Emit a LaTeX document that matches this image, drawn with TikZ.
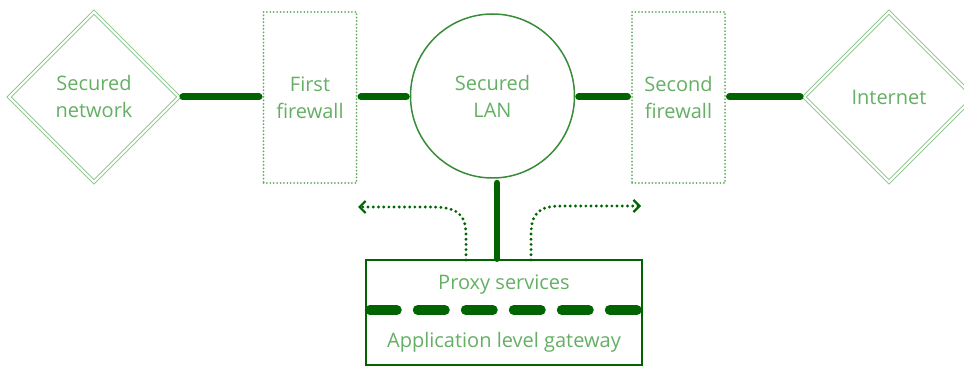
\documentclass[tikz,border=0pt]{standalone}
\usepackage{fontspec}
\setmainfont{Open Sans}
\usetikzlibrary{shapes.geometric,arrows.meta}
\definecolor{dkgreen}{RGB}{0,100,0}
\definecolor{txtgreen}{RGB}{100,175,100}
\definecolor{lgreen}{RGB}{135,195,135}
\definecolor{fwgreen}{RGB}{100,172,100}
\definecolor{cgreen}{RGB}{55,140,55}
\tikzset{
  lbl/.style={text=txtgreen,font=\fontsize{20}{27}\selectfont,align=center},
  diam/.style={lbl,shape=diamond,draw=lgreen,line width=0.8pt,double=white,double distance=2.2pt,inner sep=0pt,minimum width=170pt,minimum height=170pt},
  fwbox/.style={lbl,draw=fwgreen,line width=2pt,line cap=round,dash pattern=on 0pt off 3.4pt,minimum width=93pt,minimum height=171pt,inner sep=0pt},
  lanc/.style={lbl,shape=circle,draw=cgreen,line width=1.5pt,minimum size=164pt,inner sep=0pt},
  gw/.style={draw=dkgreen,line width=2.5pt,minimum width=276pt,minimum height=105pt,inner sep=0pt},
  conn/.style={draw=dkgreen,line width=7pt,line cap=round,shorten <=3.5pt,shorten >=3.5pt},
  dotarrow/.style={draw=dkgreen,line width=3.2pt,line cap=round,dash pattern=on 0pt off 5.2pt,-{Straight Barb[length=6pt,width=12pt,line width=2.2pt]}},
}
\begin{document}
\begin{tikzpicture}[x=1pt,y=-1pt]
\useasboundingbox (0,0) rectangle (964,366);
\node[diam] (net) at (94,97) {Secured\\network};
\node[fwbox] (fw1) at (310,97.5) {First\\firewall};
\node[lanc] (lan) at (492.5,96) {Secured\\LAN};
\node[fwbox] (fw2) at (678.5,97.5) {Second\\firewall};
\node[diam] (inet) at (889,97) {Internet};
\node[gw] (gwy) at (504,312.5) {};
\node[lbl] (proxy) at (504,285) {Proxy services};
\node[lbl] (alg) at (504,342) {Application level gateway};
\draw[conn] (net.east) -- (net.east -| fw1.west);
\draw[conn] (net.east -| fw1.east) -- (net.east -| lan.west);
\draw[conn] (net.east -| lan.east) -- (net.east -| fw2.west);
\draw[conn] (net.east -| fw2.east) -- (inet.west);
\coordinate (vtop) at (497,183);
\draw[draw=dkgreen,line width=6.5pt,line cap=round] (vtop) -- (vtop |- gwy.north);
\draw[draw=dkgreen,line width=10pt,line cap=round,dash pattern=on 27pt off 21pt] ([xshift=5pt]gwy.west |- 0,310) -- ([xshift=-5pt]gwy.east |- 0,310);
\coordinate (la) at (466,260);
\coordinate (lend) at (358,207);
\coordinate (ra) at (531,260);
\coordinate (rend) at (641,206);
\draw[dotarrow] (la) -- (466,235) .. controls (466,212) and (455,207) .. (430,207) -- (lend);
\draw[dotarrow] (ra) -- (531,235) .. controls (531,212) and (540,206) .. (562,206) -- (rend);
\end{tikzpicture}
\end{document}
